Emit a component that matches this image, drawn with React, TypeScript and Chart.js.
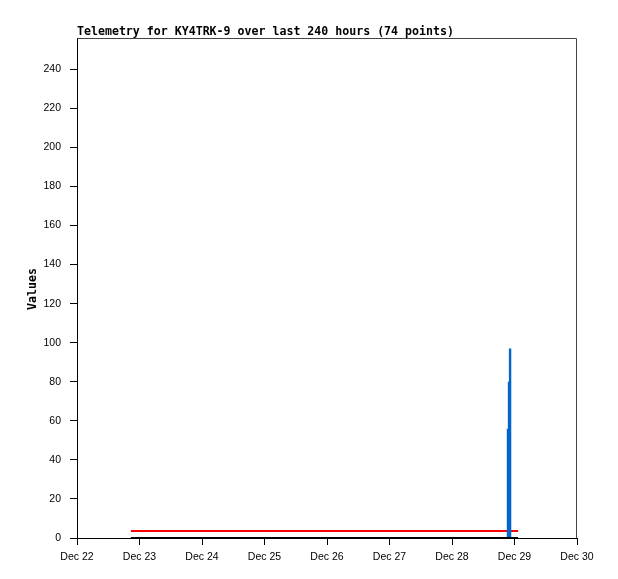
import React, { useEffect, useRef } from "react";
import { Chart, registerables } from "chart.js";

Chart.register(...registerables);

// x values are hours since Dec 22 00:00
const dayLabels = ["Dec 22", "Dec 23", "Dec 24", "Dec 25", "Dec 26", "Dec 27", "Dec 28", "Dec 29", "Dec 30"];
const yTickValues = [0, 20, 40, 60, 80, 100, 120, 140, 160, 180, 200, 220, 240];

const redHours = [20.7, 60, 100, 140, 169.4];
const redValues = [3.6, 3.6, 3.6, 3.6, 3.6];

const blackHours = [20.7, 60, 100, 140, 169.4];
const blackValues = [0, 0, 0, 0, 0];

const blueHours = [165.5, 165.9, 166.3];
const blueValues = [56, 80, 97];

const titleText = "Telemetry for KY4TRK-9 over last 240 hours (74 points)";
const yAxisTitle = "Values";

export default function App() {
  const ref = useRef<HTMLCanvasElement | null>(null);

  useEffect(() => {
    if (!ref.current) return;
    const blueData: any[] = [];
    blueHours.forEach((h, i) => {
      blueData.push({ x: h, y: 0 });
      blueData.push({ x: h, y: blueValues[i] });
      blueData.push({ x: h, y: null });
    });

    const framePlugin = {
      id: "frame",
      afterDraw(chart: any) {
        const { ctx, chartArea } = chart;
        ctx.save();
        ctx.strokeStyle = "#444";
        ctx.lineWidth = 1;
        ctx.beginPath();
        ctx.moveTo(Math.round(chartArea.left) + 0.5, Math.round(chartArea.top) + 0.5);
        ctx.lineTo(Math.round(chartArea.right) - 0.5, Math.round(chartArea.top) + 0.5);
        ctx.lineTo(Math.round(chartArea.right) - 0.5, Math.round(chartArea.bottom));
        ctx.stroke();
        ctx.fillStyle = "#000";
        ctx.font = "bold 11.6px 'DejaVu Sans Mono'";
        ctx.textBaseline = "alphabetic";
        ctx.textAlign = "left";
        ctx.fillText(titleText, 77, 35);
        ctx.translate(36, 289);
        ctx.rotate(-Math.PI / 2);
        ctx.textAlign = "center";
        ctx.fillText(yAxisTitle, 0, 0);
        ctx.restore();
      },
    };

    const chart = new Chart(ref.current, {
      type: "line",
      data: {
        datasets: [
          {
            label: "black",
            data: blackHours.map((h, i) => ({ x: h, y: blackValues[i] })),
            borderColor: "#000000",
            borderWidth: 2,
            pointRadius: 0,
            order: 0,
          },
          {
            label: "blue",
            data: blueData,
            borderColor: "#0066cc",
            borderWidth: 2.4,
            pointRadius: 0,
            spanGaps: false,
            order: 1,
          },
          {
            label: "red",
            data: redHours.map((h, i) => ({ x: h, y: redValues[i] })),
            borderColor: "#ff0000",
            borderWidth: 2,
            pointRadius: 0,
            order: 2,
          },
        ],
      },
      options: {
        responsive: false,
        animation: false,
        layout: { padding: { left: 0, top: 38, right: 41, bottom: 0 } },
        plugins: { legend: { display: false }, title: { display: false }, tooltip: { enabled: false } },
        scales: {
          x: {
            type: "linear",
            min: 0,
            max: 192,
            afterFit: (s: any) => {
              s.height = 41;
            },
            afterBuildTicks: (s: any) => {
              s.ticks = dayLabels.map((_, i) => ({ value: i * 24 }));
            },
            ticks: {
              autoSkip: false,
              maxRotation: 0,
              padding: 6,
              color: "#000",
              font: { family: "'Liberation Sans'", size: 10.5 },
              callback: (v: any) => dayLabels[Math.round(Number(v) / 24)],
            },
            grid: { drawOnChartArea: false, drawTicks: true, tickLength: 7, color: "#000" },
            border: { display: true, color: "#000", width: 1 },
          },
          y: {
            type: "linear",
            min: 0,
            max: 256,
            afterFit: (s: any) => {
              s.width = 77;
            },
            afterBuildTicks: (s: any) => {
              s.ticks = yTickValues.map((v) => ({ value: v }));
            },
            ticks: {
              autoSkip: false,
              padding: 9,
              color: "#000",
              font: { family: "'Liberation Sans'", size: 10.5 },
            },
            grid: { drawOnChartArea: false, drawTicks: true, tickLength: 7, color: "#000" },
            border: { display: true, color: "#000", width: 1 },
          },
        },
      },
      plugins: [framePlugin],
    });
    return () => chart.destroy();
  }, []);

  return (
    <div style={{ position: "absolute", left: 0, top: 0, width: 618, height: 579, background: "#fff" }}>
      <canvas ref={ref} width={618} height={579} style={{ display: "block" }} />
    </div>
  );
}
